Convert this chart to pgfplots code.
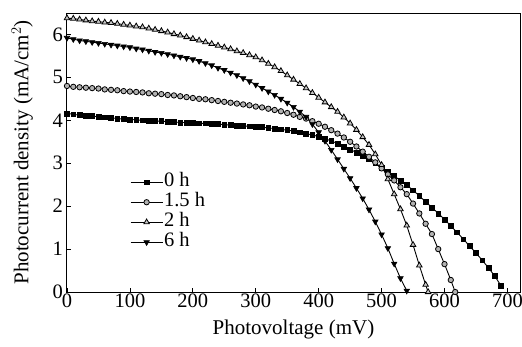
\documentclass[border=0pt]{standalone}
\usepackage{fontspec}
\setmainfont{Liberation Serif}
\usepackage{pgfplots}
\pgfplotsset{compat=1.18}
\begin{document}
\begin{tikzpicture}[x=1pt,y=1pt]
\useasboundingbox (-67,-54) rectangle (455,292);
\begin{axis}[
  at={(0,0)}, anchor=south west,
  scale only axis, width=453pt, height=279pt,
  xmin=0, xmax=720, ymin=0, ymax=6.5,
  xtick={0,100,...,700}, ytick={0,1,...,6},
  tick pos=left, tick align=inside,
  major tick length=4pt,
  axis line style={line width=1pt},
  tick style={line width=0.8pt, black},
  /pgf/number format/assume math mode=true,
  tick label style={font=\fontsize{20.5}{22}\selectfont},
  xticklabel style={inner sep=1pt, yshift=-1pt},
  yticklabel style={inner sep=1pt, xshift=-3pt},
  xlabel={Photovoltage (mV)},
  ylabel={Photocurrent density (mA/cm$^{2}$)},
  label style={font=\fontsize{21}{24}\selectfont},
  xlabel style={at={(axis description cs:0.5,-0.136)}, anchor=center},
  ylabel style={at={(axis description cs:-0.099,0.5)}, anchor=center},
  legend style={at={(0.139,0.43)}, anchor=north west, draw=none, fill=none,
     font=\fontsize{20.5}{22}\selectfont, row sep=0pt, inner sep=0pt,
     nodes={inner sep=1pt, text height=13.5pt, text depth=4.5pt, anchor=west}},
  legend cell align=left,
  legend image code/.code={\draw[mark repeat=2,mark phase=2] plot coordinates {(0pt,0pt) (16pt,0pt) (32pt,0pt)};},
  every axis plot/.append style={line width=0.9pt, black},
]
\addplot[mark=square*, mark size=2.4pt, mark options={fill=black, line width=0.6pt}] table {
0 4.16
10 4.14
20 4.12
30 4.11
40 4.10
50 4.08
60 4.07
70 4.06
80 4.04
90 4.03
100 4.02
110 4.01
120 4.00
130 3.99
140 3.98
150 3.98
160 3.97
170 3.96
180 3.95
190 3.95
200 3.94
210 3.93
220 3.93
230 3.92
240 3.91
250 3.90
260 3.89
270 3.88
280 3.87
290 3.86
300 3.85
310 3.84
320 3.82
330 3.81
340 3.79
350 3.77
360 3.75
370 3.72
380 3.69
390 3.66
400 3.62
410 3.57
420 3.52
430 3.46
440 3.39
450 3.32
460 3.25
470 3.17
480 3.09
490 3.00
500 2.90
510 2.80
520 2.70
530 2.60
540 2.49
550 2.37
560 2.24
570 2.10
580 1.97
590 1.83
600 1.69
610 1.54
620 1.39
630 1.23
640 1.07
650 0.91
660 0.74
670 0.56
680 0.37
690 0.14
};
\addlegendentry{0 h}
\addplot[mark=*, mark size=2.7pt, mark options={fill=gray!60, line width=0.8pt}] table {
0 4.80
10 4.78
20 4.77
30 4.76
40 4.75
50 4.74
60 4.72
70 4.71
80 4.70
90 4.68
100 4.67
110 4.66
120 4.65
130 4.63
140 4.62
150 4.61
160 4.59
170 4.58
180 4.56
190 4.54
200 4.52
210 4.50
220 4.49
230 4.47
240 4.45
250 4.43
260 4.41
270 4.39
280 4.37
290 4.35
300 4.32
310 4.30
320 4.27
330 4.24
340 4.21
350 4.17
360 4.13
370 4.08
380 4.04
390 3.98
400 3.92
410 3.85
420 3.77
430 3.69
440 3.60
450 3.50
460 3.39
470 3.27
480 3.15
490 3.02
500 2.88
510 2.74
520 2.60
530 2.44
540 2.28
550 2.06
560 1.83
570 1.59
580 1.35
590 1.00
600 0.65
610 0.28
617 0.00
};
\addlegendentry{1.5 h}
\addplot[mark=triangle*, mark size=3.2pt, mark options={fill=gray!45, line width=0.8pt}] table {
0 6.38
10 6.37
20 6.35
30 6.33
40 6.31
50 6.30
60 6.28
70 6.27
80 6.25
90 6.23
100 6.21
110 6.19
120 6.17
130 6.14
140 6.11
150 6.08
160 6.05
170 6.01
180 5.98
190 5.94
200 5.90
210 5.86
220 5.82
230 5.78
240 5.74
250 5.70
260 5.66
270 5.61
280 5.57
290 5.52
300 5.47
310 5.40
320 5.32
330 5.24
340 5.15
350 5.05
360 4.95
370 4.85
380 4.75
390 4.64
400 4.53
410 4.42
420 4.31
430 4.20
440 4.07
450 3.93
460 3.78
470 3.61
480 3.43
490 3.21
500 2.96
510 2.63
520 2.28
530 1.93
540 1.55
550 1.10
560 0.62
570 0.17
574 0.00
};
\addlegendentry{2 h}
\addplot[mark=triangle*, mark size=3.2pt, mark options={rotate=180, fill=black, line width=0.6pt}] table {
0 5.92
10 5.89
20 5.86
30 5.84
40 5.82
50 5.80
60 5.78
70 5.76
80 5.74
90 5.72
100 5.70
110 5.67
120 5.65
130 5.62
140 5.59
150 5.57
160 5.54
170 5.51
180 5.48
190 5.45
200 5.42
210 5.38
220 5.33
230 5.28
240 5.22
250 5.17
260 5.11
270 5.05
280 4.98
290 4.91
300 4.83
310 4.75
320 4.67
330 4.59
340 4.50
350 4.41
360 4.31
370 4.20
380 4.08
390 3.91
400 3.72
410 3.52
420 3.31
430 3.09
440 2.87
450 2.65
460 2.42
470 2.18
480 1.92
490 1.64
500 1.34
510 1.02
520 0.66
530 0.32
540 0.03
};
\addlegendentry{6 h}
\end{axis}
\end{tikzpicture}
\end{document}
